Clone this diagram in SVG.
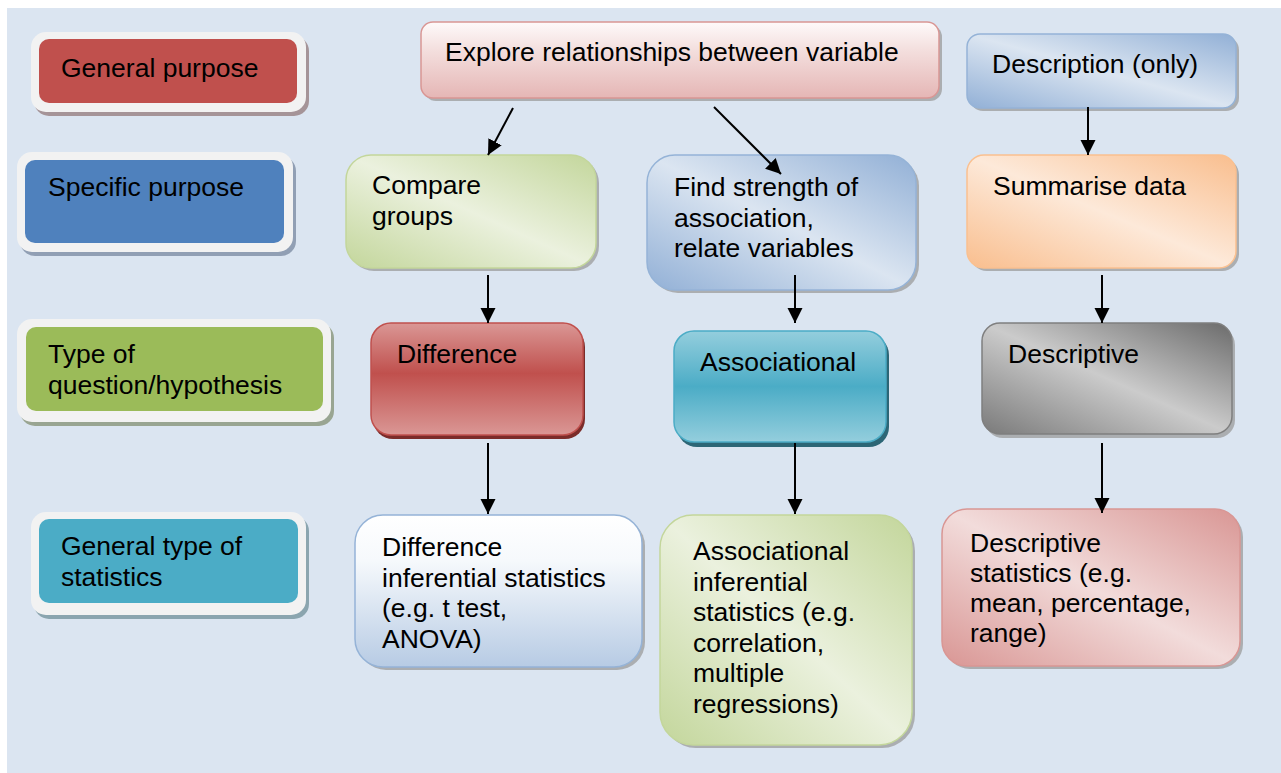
<svg xmlns="http://www.w3.org/2000/svg" width="1281" height="773" viewBox="0 0 1281 773">
  <style>
    .t { font-family: "Liberation Sans", Arial, sans-serif; font-size: 26.5px; fill: #000; }
    .frame { fill: #f2f2f2; }
    .shadow { fill: #9b9b9b; opacity: 0.75; }
    .conn { stroke: #000; stroke-width: 2; fill: none; marker-end: url(#arrow); }
  </style>
  <defs>
    <marker id="arrow" markerUnits="userSpaceOnUse" markerWidth="16" markerHeight="16" refX="15" refY="7.5" orient="auto">
      <path d="M0,0 L15,7.5 L0,15 z" fill="#000"/>
    </marker>
    <linearGradient id="gExplore" x1="0" y1="0" x2="0" y2="1">
      <stop offset="0" stop-color="#fefafa"/>
      <stop offset="0.35" stop-color="#f4e0df"/>
      <stop offset="1" stop-color="#e5b6b5"/>
    </linearGradient>
    <linearGradient id="gBlue" x1="0" y1="1" x2="1" y2="0">
      <stop offset="0" stop-color="#92b0d6"/>
      <stop offset="0.5" stop-color="#dbe5f1"/>
      <stop offset="1" stop-color="#92b0d6"/>
    </linearGradient>
    <linearGradient id="gGreen" x1="0" y1="1" x2="1" y2="0">
      <stop offset="0" stop-color="#c3d69b"/>
      <stop offset="0.5" stop-color="#ebf1de"/>
      <stop offset="1" stop-color="#c3d69b"/>
    </linearGradient>
    <linearGradient id="gOrange" x1="0" y1="1" x2="1" y2="0">
      <stop offset="0" stop-color="#f9be8e"/>
      <stop offset="0.5" stop-color="#fde9d9"/>
      <stop offset="1" stop-color="#f9be8e"/>
    </linearGradient>
    <linearGradient id="gRed" x1="0" y1="0" x2="0" y2="1">
      <stop offset="0" stop-color="#da9795"/>
      <stop offset="0.45" stop-color="#c0504d"/>
      <stop offset="1" stop-color="#da9795"/>
    </linearGradient>
    <linearGradient id="gTeal" x1="0" y1="0" x2="0" y2="1">
      <stop offset="0" stop-color="#94cedd"/>
      <stop offset="0.5" stop-color="#4bacc6"/>
      <stop offset="1" stop-color="#94cedd"/>
    </linearGradient>
    <linearGradient id="gGray" x1="0" y1="1" x2="1" y2="0">
      <stop offset="0" stop-color="#7a7a7a"/>
      <stop offset="0.5" stop-color="#cbcbcb"/>
      <stop offset="1" stop-color="#6b6b6b"/>
    </linearGradient>
    <linearGradient id="gWhiteBlue" x1="0" y1="0" x2="0" y2="1">
      <stop offset="0" stop-color="#ffffff"/>
      <stop offset="0.3" stop-color="#f6f9fc"/>
      <stop offset="1" stop-color="#b7cbe4"/>
    </linearGradient>
    <linearGradient id="gPink" x1="0" y1="1" x2="1" y2="0">
      <stop offset="0" stop-color="#d99694"/>
      <stop offset="0.5" stop-color="#f2dcdb"/>
      <stop offset="1" stop-color="#d99694"/>
    </linearGradient>
  </defs>

  <!-- page background -->
  <rect x="7" y="8" width="1274" height="765" fill="#dbe5f1"/>

  <!-- row labels -->
  <g id="label-general-purpose">
    <rect x="34" y="36" width="275" height="80" rx="15" fill="#8f7272" opacity="0.7"/>
    <rect class="frame" x="31" y="32" width="275" height="80" rx="15"/>
    <rect x="39" y="39" width="258" height="64" rx="10" fill="#c0504d"/>
    <text class="t" x="61" y="77">General purpose</text>
  </g>
  <g id="label-specific-purpose">
    <rect x="20" y="156" width="276" height="100" rx="15" fill="#72819a" opacity="0.7"/>
    <rect class="frame" x="17" y="152" width="276" height="100" rx="15"/>
    <rect x="25" y="160" width="259" height="83" rx="10" fill="#4f81bd"/>
    <text class="t" x="48" y="196">Specific purpose</text>
  </g>
  <g id="label-question-type">
    <rect x="20" y="323" width="314" height="103" rx="15" fill="#7d8a6a" opacity="0.7"/>
    <rect class="frame" x="17" y="319" width="314" height="103" rx="15"/>
    <rect x="26" y="327" width="297" height="84" rx="10" fill="#9bbb59"/>
    <text class="t" x="48" y="363">Type of<tspan x="48" dy="31">question/hypothesis</tspan></text>
  </g>
  <g id="label-statistics-type">
    <rect x="34" y="516" width="275" height="103" rx="15" fill="#6a8a93" opacity="0.7"/>
    <rect class="frame" x="31" y="512" width="275" height="103" rx="15"/>
    <rect x="39" y="519" width="259" height="84" rx="10" fill="#4bacc6"/>
    <text class="t" x="61" y="555">General type of<tspan x="61" dy="31">statistics</tspan></text>
  </g>

  <!-- general purpose row -->
  <g id="node-explore">
    <rect class="shadow" x="424" y="25" width="518" height="76" rx="12"/>
    <rect x="421" y="22" width="518" height="76" rx="12" fill="url(#gExplore)" stroke="#d99694" stroke-width="1.5"/>
    <text class="t" x="445" y="61">Explore relationships between variable</text>
  </g>
  <g id="node-description">
    <rect class="shadow" x="970" y="37" width="269" height="74" rx="13"/>
    <rect x="967" y="34" width="269" height="74" rx="13" fill="url(#gBlue)" stroke="#95b3d7" stroke-width="1.5"/>
    <text class="t" x="992" y="73">Description (only)</text>
  </g>

  <!-- specific purpose row -->
  <g id="node-compare">
    <rect class="shadow" x="349" y="158" width="250" height="113" rx="25"/>
    <rect x="346" y="155" width="250" height="113" rx="25" fill="url(#gGreen)" stroke="#c3d69b" stroke-width="1.5"/>
    <text class="t" x="372" y="194">Compare<tspan x="372" dy="31">groups</tspan></text>
  </g>
  <g id="node-strength">
    <rect class="shadow" x="650" y="158" width="269" height="135" rx="28"/>
    <rect x="647" y="155" width="269" height="135" rx="28" fill="url(#gBlue)" stroke="#95b3d7" stroke-width="1.5"/>
    <text class="t" x="674" y="196">Find strength of<tspan x="674" dy="30.5">association,</tspan><tspan x="674" dy="30.5">relate variables</tspan></text>
  </g>
  <g id="node-summarise">
    <rect class="shadow" x="970" y="158" width="269" height="113" rx="17"/>
    <rect x="967" y="155" width="269" height="113" rx="17" fill="url(#gOrange)" stroke="#fac090" stroke-width="1.5"/>
    <text class="t" x="993" y="195">Summarise data</text>
  </g>

  <!-- question type row -->
  <g id="node-difference">
    <rect x="373" y="327" width="212" height="112" rx="20" fill="#7b2c2a"/>
    <rect x="371" y="323" width="212" height="112" rx="20" fill="url(#gRed)" stroke="#c0504d" stroke-width="1.5"/>
    <text class="t" x="397" y="363">Difference</text>
  </g>
  <g id="node-associational">
    <rect x="677" y="335" width="212" height="112" rx="20" fill="#2c6676"/>
    <rect x="674" y="331" width="212" height="111" rx="20" fill="url(#gTeal)" stroke="#4bacc6" stroke-width="1.5"/>
    <text class="t" x="700" y="371">Associational</text>
  </g>
  <g id="node-descriptive">
    <rect class="shadow" x="985" y="327" width="250" height="111" rx="18"/>
    <rect x="982" y="323" width="250" height="111" rx="18" fill="url(#gGray)" stroke="#7f7f7f" stroke-width="1.5"/>
    <text class="t" x="1008" y="363">Descriptive</text>
  </g>

  <!-- statistics row -->
  <g id="node-difference-stats">
    <rect class="shadow" x="358" y="518" width="287" height="152" rx="28"/>
    <rect x="355" y="515" width="287" height="152" rx="28" fill="url(#gWhiteBlue)" stroke="#95b3d7" stroke-width="1.5"/>
    <text class="t" x="382" y="556">Difference<tspan x="382" dy="30.7">inferential statistics</tspan><tspan x="382" dy="30.7">(e.g. t test,</tspan><tspan x="382" dy="30.7">ANOVA)</tspan></text>
  </g>
  <g id="node-associational-stats">
    <rect class="shadow" x="663" y="518" width="252" height="230" rx="33"/>
    <rect x="660" y="515" width="252" height="230" rx="33" fill="url(#gGreen)" stroke="#c3d69b" stroke-width="1.5"/>
    <text class="t" x="693" y="560">Associational<tspan x="693" dy="30.5">inferential</tspan><tspan x="693" dy="30.5">statistics (e.g.</tspan><tspan x="693" dy="30.5">correlation,</tspan><tspan x="693" dy="30.5">multiple</tspan><tspan x="693" dy="30.5">regressions)</tspan></text>
  </g>
  <g id="node-descriptive-stats">
    <rect class="shadow" x="945" y="512" width="298" height="157" rx="25"/>
    <rect x="942" y="509" width="298" height="157" rx="25" fill="url(#gPink)" stroke="#d99694" stroke-width="1.5"/>
    <text class="t" x="970" y="552">Descriptive<tspan x="970" dy="30">statistics (e.g.</tspan><tspan x="970" dy="30">mean, percentage,</tspan><tspan x="970" dy="30">range)</tspan></text>
  </g>

  <!-- connectors -->
  <g id="connectors">
    <line class="conn" x1="513" y1="108" x2="488" y2="155"/>
    <line class="conn" x1="714" y1="107" x2="781" y2="174"/>
    <line class="conn" x1="1088" y1="107" x2="1088" y2="155"/>
    <line class="conn" x1="488" y1="275" x2="488" y2="323"/>
    <line class="conn" x1="795" y1="275" x2="795" y2="323"/>
    <line class="conn" x1="1102" y1="275" x2="1102" y2="323"/>
    <line class="conn" x1="488" y1="443" x2="488" y2="514"/>
    <line class="conn" x1="795" y1="443" x2="795" y2="514"/>
    <line class="conn" x1="1102" y1="443" x2="1102" y2="513"/>
  </g>
</svg>
